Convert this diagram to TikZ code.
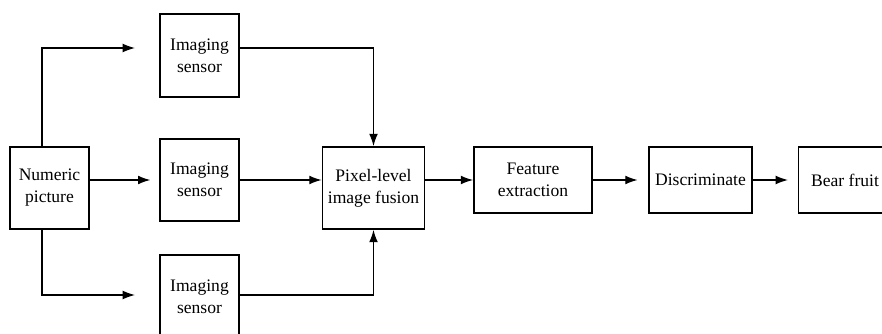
\documentclass[tikz,border=0pt]{standalone}
\usepackage{fontspec}
\setmainfont{Liberation Serif}
\usetikzlibrary{arrows.meta,positioning}

\tikzset{
  block/.style={draw, line width=1pt, align=center, inner sep=1pt,
    font=\fontsize{10}{12.5}\selectfont},
  flow/.style={line width=0.7pt, -{Latex[length=7pt,width=5pt]}}
}

\begin{document}
\begin{tikzpicture}[x=0.02cm, y=-0.02cm]
  \clip (0,0) rectangle (882,334);
  % Blocks
  \node[block, minimum width=1.58cm, minimum height=1.64cm] (numeric) at (49.5,188) {Numeric\\picture};
  \node[block, minimum width=1.58cm, minimum height=1.66cm] (sensor1) at (199.5,55.5) {Imaging\\sensor};
  \node[block, minimum width=1.58cm, minimum height=1.64cm] (sensor2) at (199.5,180) {Imaging\\sensor};
  \node[block, minimum width=1.58cm, minimum height=1.66cm] (sensor3) at (199.5,296.5) {Imaging\\sensor};
  \node[block, minimum width=2.04cm, minimum height=1.64cm] (fusion) at (373.5,188) {Pixel-level\\image fusion};
  \node[block, minimum width=2.36cm, minimum height=1.32cm] (feature) at (533,180) {Feature\\extraction};
  \node[block, minimum width=2.06cm, minimum height=1.32cm] (discr) at (700.5,180) {Discriminate};
  \node[block, minimum width=1.86cm, minimum height=1.32cm] (result) at (845,180) {Bear fruit};
  % Branch points
  \coordinate (up) at (42,48);
  \coordinate (upend) at (135,48);
  \coordinate (down) at (42,295);
  \coordinate (downend) at (135,295);
  % Connectors
  \draw[flow] (numeric.north -| up) |- (upend);
  \draw[flow, shorten >=5pt] (numeric.east |- sensor2) -- (sensor2.west);
  \draw[flow] (numeric.south -| down) |- (downend);
  \draw[flow] (sensor1.east |- up) -| (fusion.north);
  \draw[flow] (sensor2.east) -- (fusion.west |- sensor2);
  \draw[flow] (sensor3.east |- down) -| (fusion.south);
  \draw[flow] (fusion.east |- feature) -- (feature.west);
  \draw[flow, shorten >=6pt] (feature) -- (discr);
  \draw[flow, shorten >=5.5pt] (discr) -- (result);
\end{tikzpicture}
\end{document}
